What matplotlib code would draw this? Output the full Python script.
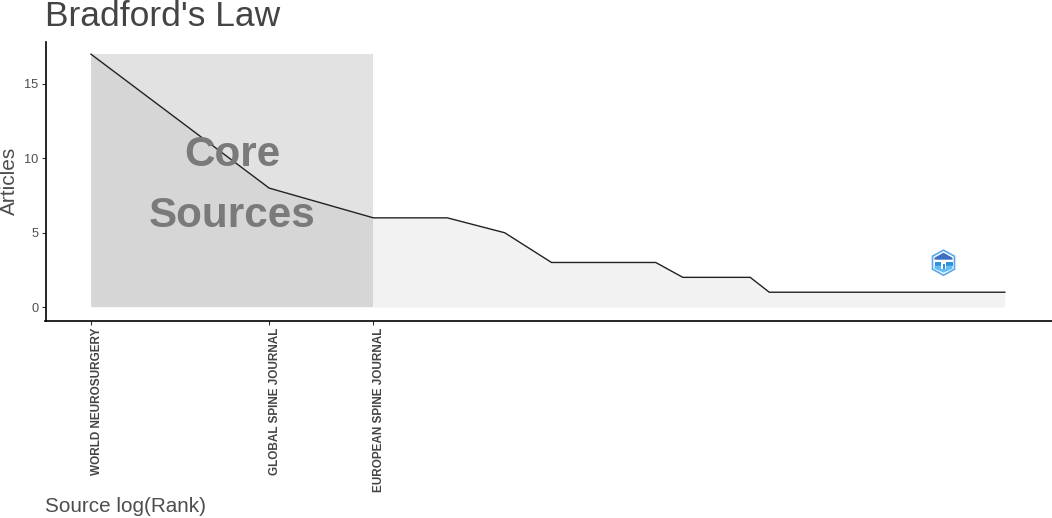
import numpy as np
import matplotlib
matplotlib.use('Agg')
import matplotlib.pyplot as plt
from matplotlib.patches import Polygon, Rectangle

plt.rcParams['font.family'] = ['Liberation Sans', 'DejaVu Sans']

articles = [17, 8, 6, 6, 5, 3, 3, 3, 3, 2, 2, 2, 2,
            1, 1, 1, 1, 1, 1, 1, 1, 1, 1, 1, 1, 1, 1, 1, 1, 1, 1, 1, 1, 1, 1]
core_sources = ["WORLD NEUROSURGERY", "GLOBAL SPINE JOURNAL", "EUROPEAN SPINE JOURNAL"]
y_ticks = [0, 5, 10, 15]

ranks = np.arange(1, len(articles) + 1)
x = np.log(ranks)
core_end = x[len(core_sources) - 1]

fig = plt.figure(figsize=(10.52, 5.18), dpi=100)
ax = fig.add_axes([45.5 / 1052, 1 - 320.5 / 518, (1052 - 45.5) / 1052, (320.5 - 42) / 518])

# area under the line, then the core zone on top
ax.fill_between(x, 0, articles, color='black', alpha=0.05, linewidth=0)
ax.add_patch(Rectangle((0, 0), core_end, max(articles), color='black', alpha=0.115, linewidth=0))
ax.plot(x, articles, color='#222222', linewidth=1.0)

ax.text(core_end / 2, 10.25, "Core", fontsize=30.4, fontweight='bold', color='#7a7a7a', ha='center', va='center')
ax.text(core_end / 2, 6.13, "Sources", fontsize=30.4, fontweight='bold', color='#7a7a7a', ha='center', va='center')

ax.set_xlim(-0.177, 3.739)
ax.set_ylim(-0.9, 17.82)
ax.set_yticks(y_ticks)
ax.set_xticks(x[:len(core_sources)])
ax.set_xticklabels(core_sources, rotation=90, ha='left', va='top', fontsize=8.5,
                   fontweight='bold', color='#444444')
ax.tick_params(axis='y', labelsize=9.2, labelcolor='#4d4d4d', length=3, width=0.8, color='#333333', pad=2)
ax.tick_params(axis='x', length=3, width=0.8, color='#333333', pad=2)
for side in ['top', 'right']:
    ax.spines[side].set_visible(False)
for side in ['left', 'bottom']:
    ax.spines[side].set_linewidth(1.2)

fig.text(45 / 1052, 1 - 26.5 / 518, "Bradford's Law", fontsize=25.5, color='#444444', ha='left', va='baseline')
fig.text(9 / 1052, 1 - 181 / 518, "Articles", fontsize=15, color='#4d4d4d', rotation=90, ha='center', va='center')
fig.text(45 / 1052, 1 - 507 / 518, "Source log(Rank)", fontsize=14.9, color='#4d4d4d', ha='left', va='center')

# small hexagon logo, in an overlay with pixel coordinates
over = fig.add_axes([0, 0, 1, 1], facecolor='none')
over.set_xlim(0, 1052)
over.set_ylim(518, 0)
over.axis('off')
cx, cy = 943.5, 262.7
hexagon = [(cx, cy - 12.5), (cx + 11, cy - 6.5), (cx + 11, cy + 6.5),
           (cx, cy + 12.5), (cx - 11, cy + 6.5), (cx - 11, cy - 6.5)]
over.add_patch(Polygon(hexagon, closed=True, facecolor='#ffffff', edgecolor='#5aa7ea', linewidth=1.2))
over.add_patch(Polygon([(cx - 9, cy - 5), (cx, cy - 10), (cx + 9, cy - 5), (cx + 9, cy - 3), (cx - 9, cy - 3)],
                       closed=True, facecolor='#3f6fc0', linewidth=0))
over.add_patch(Polygon([(cx - 9, cy - 1), (cx + 9, cy - 1), (cx + 9, cy + 3), (cx - 9, cy + 3)],
                       closed=True, facecolor='#2f8fe0', linewidth=0))
over.add_patch(Polygon([(cx - 9, cy + 3), (cx + 9, cy + 3), (cx + 9, cy + 6), (cx, cy + 10), (cx - 9, cy + 6)],
                       closed=True, facecolor='#62bdf2', linewidth=0))
over.add_patch(Rectangle((cx - 3, cy - 1), 5.5, 7, facecolor='#ffffff', linewidth=0))
over.add_patch(Rectangle((cx - 0.5, cy + 1), 1.5, 5, facecolor='#2f8fe0', linewidth=0))

fig.savefig('out.png', dpi=100)
